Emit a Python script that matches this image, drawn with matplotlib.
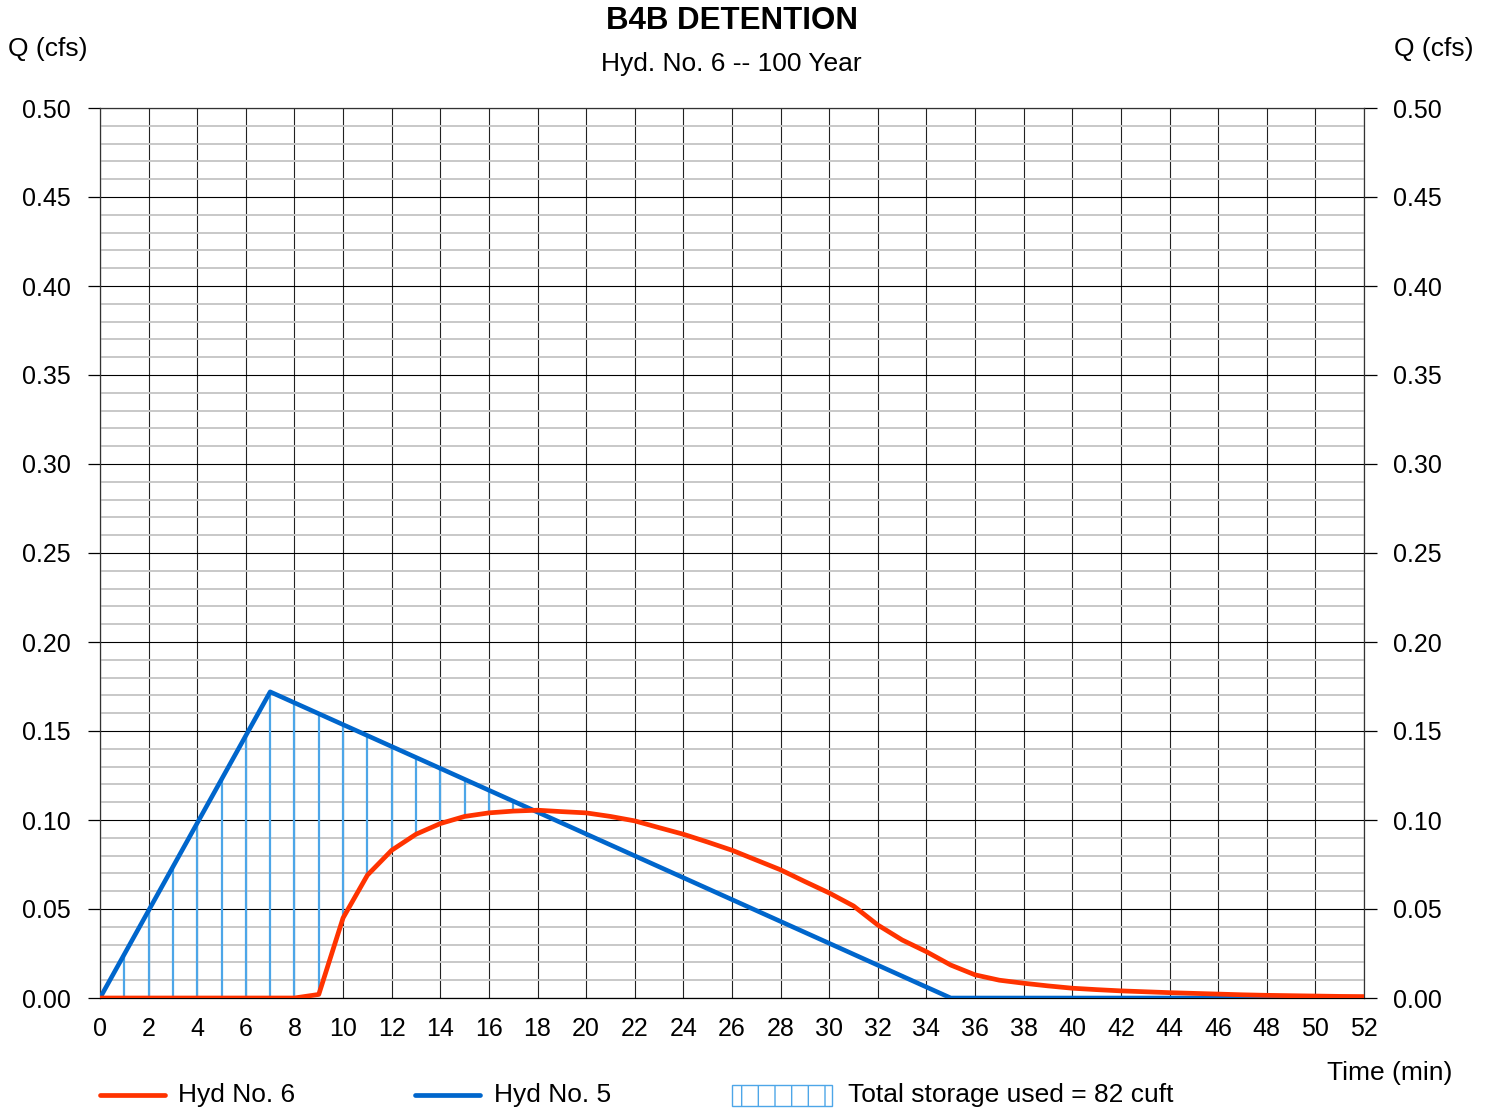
import numpy as np
import matplotlib
matplotlib.use("Agg")
import matplotlib.pyplot as plt
from matplotlib.lines import Line2D
from matplotlib.patches import Rectangle
from matplotlib.ticker import MultipleLocator, FormatStrFormatter

plt.rcParams['font.family'] = ['Liberation Sans', 'DejaVu Sans']

# Outflow hydrograph (Hyd No. 6), one value per minute
t_out = np.arange(0, 53)
q_out = [0, 0, 0, 0, 0, 0, 0, 0, 0, 0.002,
         0.045, 0.069, 0.083, 0.092, 0.098, 0.102, 0.104, 0.105, 0.1055, 0.1047,
         0.104, 0.102, 0.0995, 0.0957, 0.092, 0.0876, 0.083, 0.0775, 0.072, 0.0654,
         0.059, 0.0517, 0.041, 0.0326, 0.026, 0.0185, 0.013, 0.010, 0.0083, 0.0068,
         0.0055, 0.0047, 0.004, 0.0035, 0.003, 0.0026, 0.0022, 0.0018, 0.0015, 0.0013,
         0.0011, 0.0009, 0.0008]

# Inflow hydrograph (Hyd No. 5), triangular
t_in = [0, 7, 35, 52]
q_in = [0, 0.172, 0, 0]

storage_cuft = 82

RED = '#ff3300'
BLUE = '#0066cc'
HATCH = '#4da6e8'
TXT = 19
TICK = 18

fig = plt.figure(figsize=(14.91, 11.10), dpi=100)
ax = fig.add_axes([100 / 1491, 1 - 998 / 1110, 1264 / 1491, 890 / 1110])

ax.set_xlim(0, 52)
ax.set_ylim(0, 0.5)
ax.xaxis.set_major_locator(MultipleLocator(2))
ax.yaxis.set_major_locator(MultipleLocator(0.05))
ax.yaxis.set_minor_locator(MultipleLocator(0.01))
ax.yaxis.set_major_formatter(FormatStrFormatter('%.2f'))

ax.grid(True, which='minor', axis='y', color='#c8c8c8', lw=1.4, zorder=0)
ax.grid(True, which='major', axis='y', color='black', lw=0.8, zorder=1)
ax.grid(True, which='major', axis='x', color='#222222', lw=0.8, zorder=1)
ax.set_axisbelow(True)
for s in ax.spines.values():
    s.set_color('#333333')
    s.set_linewidth(0.9)
ax.spines['bottom'].set_color('black')

ax.tick_params(axis='y', which='major', left=True, right=True, labelleft=True,
               labelright=True, length=9, width=0.9, pad=12, labelsize=TICK)
ax.tick_params(axis='y', which='minor', left=False, right=False)
ax.tick_params(axis='x', which='major', length=0, pad=14, labelsize=TICK)

# Storage hatching: vertical strokes each minute between outflow and inflow
t_h = np.arange(1, 18)
q_top = np.interp(t_h, t_in, q_in)
q_bot = np.interp(t_h, t_out, q_out)
keep = q_top > q_bot
ax.vlines(t_h[keep], q_bot[keep], q_top[keep], color=HATCH, lw=1.6, zorder=2)

ax.plot(t_in, q_in, color=BLUE, lw=3.3, zorder=3, solid_capstyle='round')
ax.plot(t_out, q_out, color=RED, lw=3.4, zorder=4, solid_capstyle='round')

# Titles and axis labels
fig.text(732 / 1491, 1 - 21 / 1110, 'B4B DETENTION', ha='center', va='center',
         fontsize=22.5, fontweight='bold')
fig.text(731 / 1491, 1 - 64 / 1110, 'Hyd. No. 6 -- 100 Year', ha='center', va='center',
         fontsize=TXT)
fig.text(8 / 1491, 1 - 49 / 1110, 'Q (cfs)', ha='left', va='center', fontsize=TXT)
fig.text(1474 / 1491, 1 - 49 / 1110, 'Q (cfs)', ha='right', va='center', fontsize=TXT)
fig.text(1452 / 1491, 1 - 1073 / 1110, 'Time (min)', ha='right', va='center', fontsize=TXT)

# Legend row
ly = 1 - 1095 / 1110
fig.add_artist(Line2D([100 / 1491, 165 / 1491], [ly, ly], color=RED, lw=3.4,
                      solid_capstyle='round', transform=fig.transFigure))
fig.text(178 / 1491, ly, 'Hyd No. 6', ha='left', va='center', fontsize=TXT)
fig.add_artist(Line2D([415 / 1491, 480 / 1491], [ly, ly], color=BLUE, lw=3.4,
                      solid_capstyle='round', transform=fig.transFigure))
fig.text(494 / 1491, ly, 'Hyd No. 5', ha='left', va='center', fontsize=TXT)
plt.rcParams['hatch.linewidth'] = 1.0
fig.add_artist(Rectangle((732 / 1491, 1 - 1106 / 1110), 100 / 1491, 21 / 1110,
                         facecolor='white', edgecolor=HATCH, hatch='|', lw=1.0,
                         transform=fig.transFigure))
fig.text(848 / 1491, ly, f'Total storage used = {storage_cuft} cuft', ha='left',
         va='center', fontsize=TXT)

fig.savefig('out.png', dpi=100)
